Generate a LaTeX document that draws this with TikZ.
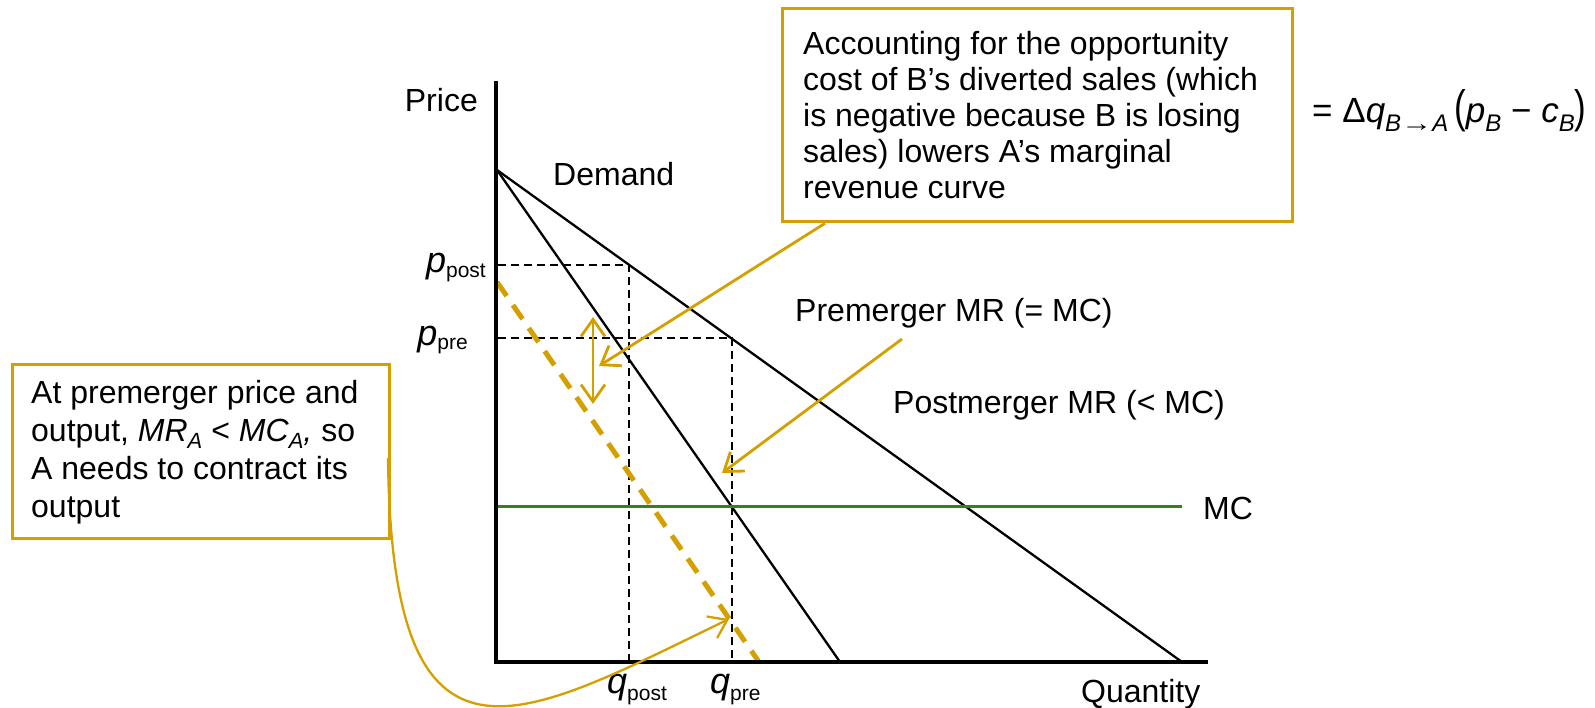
\documentclass[tikz,border=0pt]{standalone}
\usepackage{fontspec}
\setmainfont{Liberation Sans}
\usepackage{graphicx}
\usetikzlibrary{arrows.meta,calc}
\definecolor{gold}{RGB}{212,160,0}
\definecolor{mcgreen}{RGB}{59,125,35}
\newcommand{\fsz}[2]{\fontsize{#1}{#2}\selectfont}
\newcommand{\lowsub}[3]{\raisebox{-#2pt}{\fsz{#1}{#1}#3}}
\begin{document}
\begin{tikzpicture}[x=1pt,y=-1pt,
  txt/.style={inner sep=0pt, font=\fsz{32}{38}},
  varlbl/.style={inner sep=0pt, font=\fsz{36}{40}},
  curve/.style={line width=2.3pt, black},
  axisline/.style={line width=4pt, black, line join=miter},
  guide/.style={line width=1.8pt, black, dash pattern=on 8pt off 5pt},
  postmr/.style={line width=5pt, gold, dash pattern=on 17pt off 11pt},
  mcline/.style={line width=3pt, mcgreen},
  gbox/.style={draw=gold, line width=3.3pt, fill=white, inner sep=0pt},
  barbtip/.tip={Straight Barb[length=17pt,width=24pt]},
  garrow/.style={line width=2.8pt, gold, -barbtip},
  gdouble/.style={line width=2.8pt, gold, barbtip-barbtip}
]
\useasboundingbox (0,0) rectangle (1595,708);

% key coordinates
\coordinate (ytop) at (496,81);
\coordinate (O) at (496,662);
\coordinate (xend) at (1208,662);
\coordinate (dtop) at (497,170);
\coordinate (dend) at (1182,662);
\coordinate (mrend) at (840,662);
\coordinate (pmtop) at (497,282);
\coordinate (pmend) at (759,662);
\coordinate (pposty) at (498,265);
\coordinate (ppost) at (629,265);
\coordinate (qpost) at (629,662);
\coordinate (ppre) at (498,338);
\coordinate (pprept) at (732,338);
\coordinate (qpre) at (732,662);
\coordinate (mcl) at (496,506);
\coordinate (mcr) at (1182,506);

% guides
\draw[guide] (pposty) -- (ppost) -- (qpost);
\draw[guide] (ppre) -- (pprept) -- (qpre);

% curves
\draw[curve] (dtop) -- (dend);
\draw[curve] (dtop) -- (mrend);
\draw[postmr] (pmtop) -- (pmend);
\draw[mcline] (mcl) -- (mcr);

% axes
\draw[axisline] (ytop) -- (O) -- (xend);

% labels
\node[txt, anchor=base east] (price) at (478,112) {Price};
\node[txt, anchor=base west] (demand) at (553,186) {Demand};
\node[txt, anchor=base west] (mc) at (1203,519) {MC};
\node[txt, anchor=base west] (qty) at (1081,702) {Quantity};
\node[txt, anchor=base west] (premr) at (795,322) {Premerger MR (= MC)};
\node[txt, anchor=base west] (postmrl) at (893,413) {Postmerger MR (< MC)};

\node[varlbl, anchor=base east] (lppost) at (486,273) {\textit{p}\lowsub{21}{5}{post}};
\node[varlbl, anchor=base east] (lppre) at (468,345) {\textit{p}\lowsub{21}{5}{pre}};
\node[varlbl, anchor=base west] (lqpost) at (607,693) {\textit{q}\lowsub{21}{7}{post}};
\node[varlbl, anchor=base west] (lqpre) at (710,693) {\textit{q}\lowsub{21}{7}{pre}};

% formula
\node[inner sep=0pt, anchor=base west, font=\fsz{35}{40}] (frm) at (1312,123)
  {= Δ\textit{q}\lowsub{24}{9}{\textit{B}\scalebox{1.3}[1]{→}\textit{A}}\,\scalebox{1}[1.3]{(}\textit{p}\lowsub{24}{9}{\textit{B}} − \textit{c}\lowsub{24}{9}{\textit{B}}\scalebox{1}[1.3]{)}};

% boxes
\node[gbox, anchor=north west, minimum width=510pt, minimum height=213pt] (tbox) at (781,7) {};
\node[txt, anchor=north west, align=left, font=\fsz{32}{36}] (ttxt) at (803,28.8)
  {\strut Accounting for the opportunity\\cost of B’s diverted sales (which\\is negative because B is losing\\sales) lowers A’s marginal\\revenue curve};

\node[gbox, anchor=north west, minimum width=377pt, minimum height=174pt] (lbox) at (11,363) {};
\node[txt, anchor=north west, align=left] (ltxt) at (31,376.7)
  {\strut At premerger price and\\output, \textit{MR}\lowsub{22}{7}{\textit{A}} < \textit{MC}\lowsub{22}{7}{\textit{A}}\textit{,} so\\A needs to contract its\\output};

% connectors
\coordinate (a1s) at ($(tbox.south west)+(44,0)$);
\coordinate (a1e) at (599,366);
\draw[garrow] (a1s) -- (a1e);

\coordinate (a2s) at (902,339);
\coordinate (a2e) at (722,473);
\draw[garrow] (a2s) -- (a2e);

\coordinate (d1) at (593,317);
\coordinate (d2) at (593,404);
\draw[gdouble] (d1) -- (d2);

\coordinate (c0) at (388,458);
\coordinate (c1) at (729,619);
\draw[garrow, line width=2.3pt] (c0) .. controls (392,800) and (520,720) .. (c1);
\end{tikzpicture}
\end{document}
